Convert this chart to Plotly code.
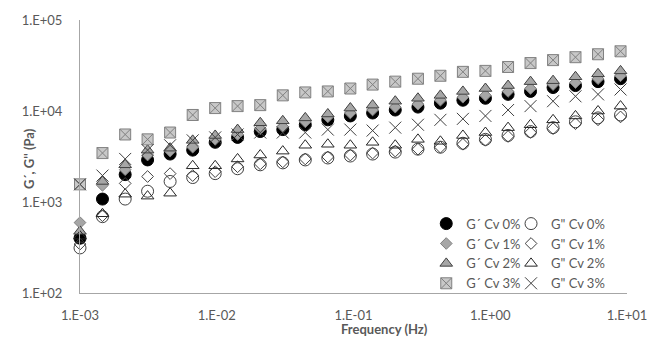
import plotly.graph_objects as go

freq_hz = [0.001, 0.00146, 0.00214, 0.00312, 0.00456, 0.00667, 0.00974, 0.0142,
           0.0208, 0.0304, 0.0444, 0.0649, 0.0948, 0.138, 0.202, 0.296, 0.432,
           0.631, 0.922, 1.35, 1.97, 2.88, 4.20, 6.14, 8.97]

g1_cv0 = [400, 1077, 2000, 2900, 3364, 3715, 4529, 5125, 5945, 6247, 7064, 7995, 8826,
          9506, 10250, 11040, 12190, 13130, 13800, 15230, 16410, 18110, 19030, 21020, 22640]
g2_cv0 = [313, 690, 1077, 1313, 1682, 1857, 2051, 2321, 2563, 2692, 2900, 3047, 3201,
          3364, 3535, 3808, 4002, 4418, 4878, 5385, 5945, 6563, 7609, 8400, 9047]
g1_cv1 = [594, 1524, 2264, 3282, 3624, 4002, 4878, 5520, 6400, 6730, 7609, 8610, 9506,
          10250, 11040, 11890, 13130, 14160, 14860, 16410, 17670, 19510, 20510, 22640, 24390]
g2_cv1 = [345, 706, 1600, 1905, 2051, 1951, 2155, 2439, 2627, 2760, 2973, 3126, 3282,
          3449, 3624, 3808, 4002, 4310, 4759, 5250, 5800, 6400, 7244, 7995, 8610]
g1_cv2 = [476, 1682, 2563, 3715, 3904, 4759, 5385, 6247, 7423, 7800, 8400, 9274, 10770,
          11600, 12810, 13800, 14860, 16410, 17670, 19030, 21020, 21550, 23790, 25630, 27600]
g2_cv2 = [421, 743, 1219, 1160, 1250, 2500, 2500, 2973, 3282, 3624, 4205, 4310, 4205,
          4529, 4205, 4878, 4645, 5385, 5800, 6563, 7064, 7995, 8826, 10000, 11320]
g1_cv3 = [1563, 3449, 5520, 4878, 5800, 9047, 10770, 11320, 11600, 14860, 16000, 16410, 17670,
          19510, 21020, 22640, 24390, 26930, 27600, 30470, 33630, 36230, 39020, 42040, 45290]
g2_cv3 = [1563, 1951, 2973, 3715, 4205, 4759, 5125, 5520, 5800, 5800, 5800, 6247, 6247,
          6094, 6563, 7064, 7995, 8195, 8826, 10250, 11320, 12810, 14500, 15230, 17240]

x_tickvals = [0.001, 0.01, 0.1, 1, 10]
x_ticktext = ["1.E-03", "1.E-02", "1.E-01", "1.E+00", "1.E+01"]
y_tickvals = [100, 1000, 10000, 100000]
y_ticktext = ["1.E+02", "1.E+03", "1.E+04", "1.E+05"]

FONT = "Lato"
TXT = "#595959"

series = [
    ("G´ Cv 0%", g1_cv0, dict(symbol="circle", size=12, color="#000000",
                               line=dict(color="#000000", width=1)), "legend"),
    ("G\" Cv 0%", g2_cv0, dict(symbol="circle-open", size=12, color="#404040",
                                line=dict(color="#404040", width=1)), "legend2"),
    ("G´ Cv 1%", g1_cv1, dict(symbol="diamond", size=9, color="#A6A6A6",
                               line=dict(color="#7F7F7F", width=1)), "legend"),
    ("G\" Cv 1%", g2_cv1, dict(symbol="diamond-open", size=9, color="#404040",
                                line=dict(color="#404040", width=1)), "legend2"),
    ("G´ Cv 2%", g1_cv2, dict(symbol="triangle-up", size=11, color="#A6A6A6",
                               line=dict(color="#404040", width=1)), "legend"),
    ("G\" Cv 2%", g2_cv2, dict(symbol="triangle-up-open", size=11, color="#262626",
                                line=dict(color="#262626", width=1)), "legend2"),
    ("G´ Cv 3%", g1_cv3, dict(symbol="square-x", size=11, color="#C8C8C8",
                               line=dict(color="#808080", width=1)), "legend"),
    ("G\" Cv 3%", g2_cv3, dict(symbol="x-thin-open", size=12, color="#404040",
                                line=dict(color="#404040", width=1)), "legend2"),
]

fig = go.Figure()
for name, vals, mk, lg in series:
    fig.add_trace(go.Scatter(x=freq_hz, y=vals, mode="markers", name=name,
                             marker=mk, legend=lg, cliponaxis=False))

fig.update_layout(
    width=659, height=345,
    margin=dict(l=80, r=31, t=14, b=52),
    paper_bgcolor="white", plot_bgcolor="white",
    font=dict(family=FONT, size=13, color=TXT),
    legend=dict(x=0.633, y=0.309, xanchor="left", yanchor="top",
                font=dict(family=FONT, size=13, color=TXT),
                bgcolor="rgba(0,0,0,0)", tracegroupgap=0),
    legend2=dict(x=0.788, y=0.309, xanchor="left", yanchor="top",
                 font=dict(family=FONT, size=13, color=TXT),
                 bgcolor="rgba(0,0,0,0)", tracegroupgap=0),
    showlegend=True,
)
fig.update_xaxes(type="log", range=[-3, 1], tickvals=x_tickvals, ticktext=x_ticktext,
                 showgrid=False, zeroline=False, showline=True, linecolor="#A6A6A6",
                 linewidth=1, ticks="outside", ticklen=10, tickcolor="rgba(0,0,0,0)",
                 tickfont=dict(family=FONT, size=13, color=TXT))
fig.update_yaxes(type="log", range=[2, 5], tickvals=y_tickvals, ticktext=y_ticktext,
                 showgrid=False, zeroline=False, showline=True, linecolor="#A6A6A6",
                 linewidth=1, ticks="outside", ticklen=14, tickcolor="rgba(0,0,0,0)",
                 tickfont=dict(family=FONT, size=13, color=TXT))

fig.add_annotation(text="<b>Frequency (Hz)</b>", xref="paper", yref="paper",
                   x=(385 - 80) / 548, y=-(330 - 293) / 279, xanchor="center", yanchor="middle",
                   showarrow=False, font=dict(family=FONT, size=13, color=TXT))
fig.add_annotation(text="<b>G´, G'' (Pa)</b>", xref="paper", yref="paper",
                   x=-(80 - 29) / 548, y=(293 - 156) / 279, xanchor="center", yanchor="middle",
                   textangle=-90, showarrow=False, font=dict(family=FONT, size=13, color=TXT))

fig.write_html("out.html")
